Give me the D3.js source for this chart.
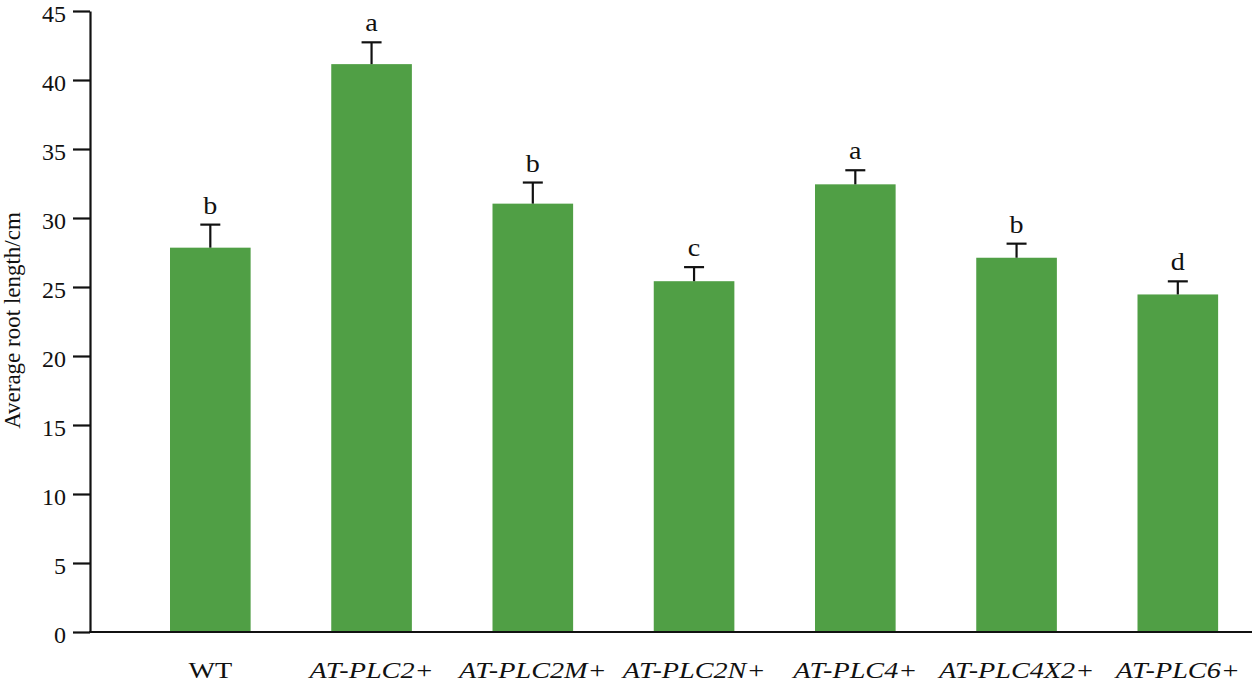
<!DOCTYPE html>
<html>
<head>
<meta charset="utf-8">
<script src="https://cdn.jsdelivr.net/npm/d3@7"></script>
<style>
  html, body { margin: 0; padding: 0; background: #fff; }
  svg { display: block; }
  text { font-family: "Liberation Serif", "Times New Roman", serif; fill: #111; }
</style>
</head>
<body>
<svg id="chart" width="1255" height="683"></svg>
<script>
const categories = ["WT", "AT-PLC2+", "AT-PLC2M+", "AT-PLC2N+", "AT-PLC4+", "AT-PLC4X2+", "AT-PLC6+"];
const italicLabel = [false, true, true, true, true, true, true];
const means = [27.85, 41.15, 31.04, 25.42, 32.44, 27.12, 24.46];
const errors = [1.67, 1.58, 1.53, 1.02, 1.02, 1.02, 0.95];
const letters = ["b", "a", "b", "c", "a", "b", "d"];
const yTicks = [0, 5, 10, 15, 20, 25, 30, 35, 40, 45];
const yLabel = "Average root length/cm";

const svg = d3.select("#chart");
const axisX = 90, baseY = 632, topY = 11, rightX = 1252;

const y = d3.scaleLinear().domain([0, 45]).range([baseY, topY]);
const step = 161.25;
const x = d3.scaleBand().domain(categories)
  .range([170 - step * 0.5, 170 - step * 0.5 + step * 7.5])
  .paddingInner(0.5).paddingOuter(0.5);

const barColor = "#509f45";

// bars
svg.append("g").selectAll("rect").data(categories).join("rect")
  .attr("x", d => x(d))
  .attr("y", (d, i) => y(means[i]))
  .attr("width", x.bandwidth())
  .attr("height", (d, i) => y(0) - y(means[i]))
  .attr("fill", barColor);

// error bars
const eb = svg.append("g").attr("stroke", "#111").attr("stroke-width", 2.2);
categories.forEach((c, i) => {
  const cx = x(c) + x.bandwidth() / 2;
  eb.append("line").attr("x1", cx).attr("x2", cx)
    .attr("y1", y(means[i])).attr("y2", y(means[i] + errors[i]));
  eb.append("line").attr("x1", cx - 10).attr("x2", cx + 10)
    .attr("y1", y(means[i] + errors[i])).attr("y2", y(means[i] + errors[i]));
});

// significance letters
svg.append("g").selectAll("text").data(categories).join("text")
  .attr("transform", (d, i) => `translate(${x(d) + x.bandwidth() / 2},${y(means[i] + errors[i]) - 11}) scale(1.08,1)`)
  .attr("text-anchor", "middle")
  .attr("font-size", 26)
  .text((d, i) => letters[i]);

// y axis
const yAxis = d3.axisLeft(y).tickValues(yTicks).tickSize(17).tickPadding(7).tickSizeOuter(0);
const gy = svg.append("g").attr("transform", `translate(${axisX},0)`).call(yAxis);
gy.select(".domain").attr("stroke", "#111").attr("stroke-width", 2.2);
gy.selectAll(".tick line").attr("stroke", "#111").attr("stroke-width", 2.2);
gy.selectAll(".tick text").attr("font-size", 24).attr("fill", "#111")
  .style("font-family", "'Liberation Serif', serif").attr("dy", "0.42em");

// x axis line
svg.append("line").attr("x1", axisX - 1).attr("x2", rightX)
  .attr("y1", baseY).attr("y2", baseY)
  .attr("stroke", "#111").attr("stroke-width", 2.2);

// x labels
svg.append("g").selectAll("text").data(categories).join("text")
  .attr("transform", d => `translate(${x(d) + x.bandwidth() / 2},678) scale(1.2,1)`)
  .attr("text-anchor", "middle")
  .attr("font-size", 23.5)
  .attr("font-style", (d, i) => italicLabel[i] ? "italic" : "normal")
  .text(d => d);

// y label
svg.append("text")
  .attr("transform", `translate(20,${(203 + 438) / 2}) rotate(-90)`)
  .attr("text-anchor", "middle")
  .attr("font-size", 23)
  .text(yLabel);
</script>
</body>
</html>
